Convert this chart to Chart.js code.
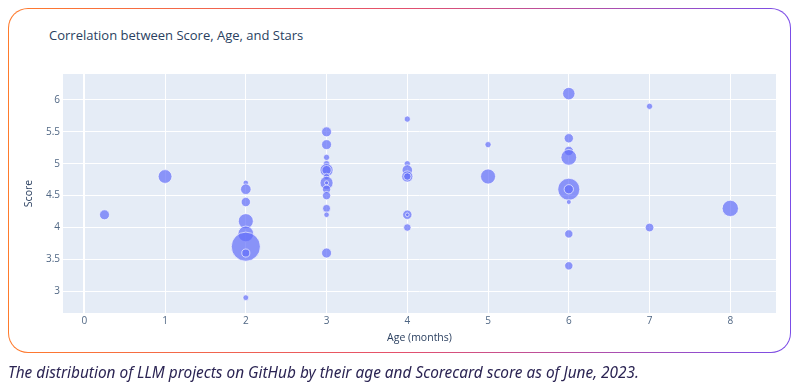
<!DOCTYPE html>
<html lang="en">
<head>
  <meta charset="UTF-8" />
  <title>Correlation between Score, Age, and Stars</title>
  <script src="https://cdn.jsdelivr.net/npm/chart.js"></script>
  <style>
    body {
      margin: 0;
      width: 800px;
      height: 387px;
      background: #ffffff;
      position: relative;
      overflow: hidden;
    }
    .frame {
      position: absolute;
      left: 8px;
      top: 8px;
      width: 783px;
      height: 345px;
      box-sizing: border-box;
      border: 1.6px solid transparent;
      border-radius: 20px;
      background: linear-gradient(#fff, #fff) padding-box,
                  linear-gradient(90deg, #ff7b2c 0%, #e4506c 50%, #7b4de8 100%) border-box;
    }
    #chartTitle {
      position: absolute;
      left: 49px;
      top: 27px;
      font-family: "Open Sans", sans-serif;
      font-size: 13px;
      line-height: 16px;
      color: #2a3f5f;
    }
    canvas {
      position: absolute;
      left: 0;
      top: 0;
    }
    #caption {
      position: absolute;
      left: 8px;
      top: 363px;
      font-family: "Noto Sans", sans-serif;
      font-style: italic;
      font-size: 15.4px;
      line-height: 20px;
      color: #2b2453;
      white-space: nowrap;
    }
  </style>
</head>
<body>
  <div class="frame"></div>
  <div id="chartTitle">Correlation between Score, Age, and Stars</div>
  <canvas id="scoreChart" width="800" height="387"></canvas>
  <div id="caption">The distribution of LLM projects on GitHub by their age and Scorecard score as of June, 2023.</div>

  <script>
    // data: age (months), scorecard score, stars (thousands)
    const ages = [
      0.25, 1,
      2, 2, 2, 2, 2, 2, 2, 2,
      3, 3, 3, 3, 3, 3, 3, 3, 3, 3, 3, 3, 3, 3,
      4, 4, 4, 4, 4, 4, 4, 4,
      5, 5,
      6, 6, 6, 6, 6, 6, 6, 6, 6,
      7, 7,
      8
    ];
    const scores = [
      4.2, 4.8,
      4.7, 4.6, 4.4, 4.1, 3.9, 3.7, 3.6, 2.9,
      5.5, 5.3, 5.1, 5.0, 4.9, 4.9, 4.8, 4.7, 4.7, 4.6, 4.5, 4.3, 4.2, 3.6,
      5.7, 5.0, 4.9, 4.8, 4.8, 4.2, 4.2, 4.0,
      5.3, 4.8,
      6.1, 5.4, 5.2, 5.1, 4.6, 4.6, 4.4, 3.9, 3.4,
      5.9, 4.0,
      4.3
    ];
    const stars = [
      3.3, 7.0,
      0.7, 3.75, 2.8, 8.5, 9.4, 35.7, 1.95, 0.8,
      3.3, 3.3, 1.0, 1.1, 6.2, 2.8, 1.1, 6.2, 0.3, 2.1, 2.1, 1.9, 0.7, 3.3,
      1.0, 1.0, 3.7, 4.3, 1.6, 2.8, 0.2, 1.6,
      1.0, 8.5,
      5.5, 2.8, 2.8, 9.4, 19.7, 2.8, 0.5, 2.1, 2.1,
      1.0, 2.3,
      10.2
    ];
    const xTicks = [0, 1, 2, 3, 4, 5, 6, 7, 8];
    const yTicks = [3, 3.5, 4, 4.5, 5, 5.5, 6];

    // bubble area follows stars
    function bubbleRadius(s) {
      return 0.8 + 2.3 * Math.sqrt(s);
    }

    const points = ages.map((a, i) => ({ x: a, y: scores[i], r: bubbleRadius(stars[i]) }));

    // plot background like plotly
    const plotBg = {
      id: 'plotBg',
      beforeDraw(chart) {
        const { ctx, chartArea } = chart;
        ctx.save();
        ctx.fillStyle = '#e5ecf6';
        ctx.fillRect(chartArea.left, chartArea.top, chartArea.right - chartArea.left, chartArea.bottom - chartArea.top);
        ctx.restore();
      }
    };

    const tickFont = { family: 'Open Sans', size: 10 };
    const titleFont = { family: 'Open Sans', size: 10.5 };

    new Chart(document.getElementById('scoreChart'), {
      type: 'bubble',
      data: {
        datasets: [{
          data: points,
          backgroundColor: 'rgba(99, 110, 250, 0.7)',
          borderColor: 'rgba(255, 255, 255, 0.8)',
          borderWidth: 0.8
        }]
      },
      options: {
        responsive: false,
        animation: false,
        layout: { padding: { left: 0, top: 74, right: 24, bottom: 34 } },
        plugins: {
          legend: { display: false },
          tooltip: { enabled: false }
        },
        scales: {
          x: {
            type: 'linear',
            min: -0.264,
            max: 8.566,
            afterBuildTicks: s => { s.ticks = xTicks.map(v => ({ value: v })); },
            afterFit: s => { s.height = 40; },
            border: { display: false },
            grid: {
              color: '#ffffff',
              lineWidth: ctx => (ctx.tick && ctx.tick.value === 0 ? 2 : 1),
              drawTicks: false
            },
            ticks: { font: tickFont, color: '#506784', padding: 2, maxRotation: 0 },
            title: {
              display: true,
              text: 'Age (months)',
              font: titleFont,
              color: '#2a3f5f',
              padding: { top: 0, bottom: 9 }
            }
          },
          y: {
            type: 'linear',
            min: 2.66,
            max: 6.407,
            afterBuildTicks: s => { s.ticks = yTicks.map(v => ({ value: v })); },
            afterFit: s => { s.width = 63; },
            border: { display: false },
            grid: { color: '#ffffff', lineWidth: 1, drawTicks: false },
            ticks: { font: tickFont, color: '#506784', padding: 3, callback: v => String(v) },
            title: {
              display: true,
              text: 'Score',
              font: titleFont,
              color: '#2a3f5f',
              padding: { top: 23, bottom: 0 }
            }
          }
        }
      },
      plugins: [plotBg]
    });
  </script>
</body>
</html>
